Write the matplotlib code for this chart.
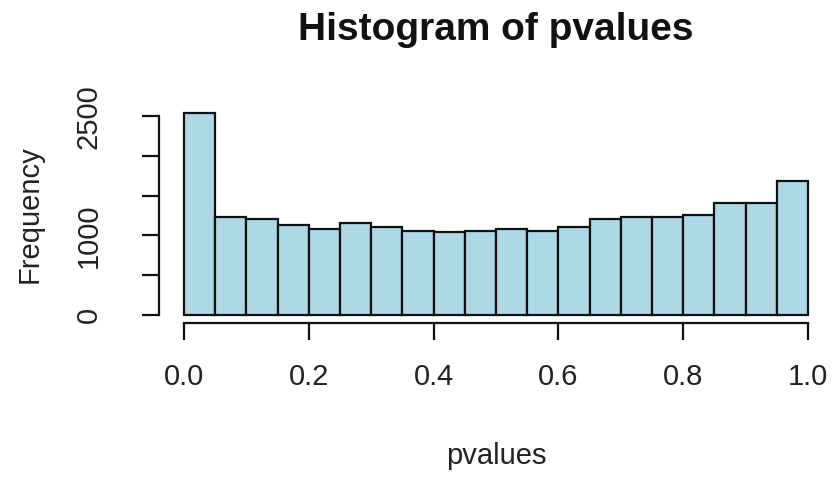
import matplotlib
matplotlib.use("Agg")
import matplotlib.pyplot as plt
import numpy as np

plt.rcParams['font.family'] = ['Liberation Sans', 'DejaVu Sans']

bin_edges = np.linspace(0.0, 1.0, 21)
counts = [2540, 1235, 1210, 1130, 1085, 1155, 1110, 1050, 1045, 1055,
          1085, 1055, 1110, 1210, 1235, 1230, 1255, 1405, 1405, 1690]
x_ticks = [0.0, 0.2, 0.4, 0.6, 0.8, 1.0]
x_ticklabels = ['0.0', '0.2', '0.4', '0.6', '0.8', '1.0']
y_ticks = [0, 500, 1000, 1500, 2000, 2500]
y_ticklabels = ['0', '', '1000', '', '', '2500']

W, H = 835, 479
fig = plt.figure(figsize=(W / 100, H / 100), dpi=100)
left, right, top, bottom = 159, 833, 105, 323
ax = fig.add_axes([left / W, 1 - bottom / H, (right - left) / W, (bottom - top) / H])

ax.bar(bin_edges[:-1], counts, width=np.diff(bin_edges), align='edge',
       color='#ADD8E6', edgecolor='#111111', linewidth=1.6)

ax.set_xlim(-0.04, 1.04)
ymax = max(counts)
ax.set_ylim(-0.04 * ymax, 1.04 * ymax)

for s in ['top', 'right']:
    ax.spines[s].set_visible(False)
ax.spines['left'].set_bounds(0, 2500)
ax.spines['bottom'].set_bounds(0, 1)
for s in ['left', 'bottom']:
    ax.spines[s].set_linewidth(1.6)
    ax.spines[s].set_color('#111111')

ax.set_xticks(x_ticks)
ax.set_xticklabels(x_ticklabels)
ax.set_yticks(y_ticks)
ax.set_yticklabels(y_ticklabels, rotation=90, va='center')
ax.tick_params(axis='both', length=12.5, width=1.6, color='#111111',
               labelsize=21, labelcolor='#222222')
ax.tick_params(axis='x', pad=16)
ax.tick_params(axis='y', pad=28)

fig.text(496 / W, 1 - 40 / H, 'Histogram of pvalues', fontsize=28,
         fontweight='bold', color='#111111', ha='center', va='baseline')
fig.text(496 / W, 1 - 456 / H, 'pvalues', fontsize=21, color='#222222',
         ha='center', va='center')
fig.text(30 / W, 1 - 214 / H, 'Frequency', fontsize=21, color='#222222',
         ha='center', va='center', rotation=90)

fig.savefig('out.png', dpi=100)
